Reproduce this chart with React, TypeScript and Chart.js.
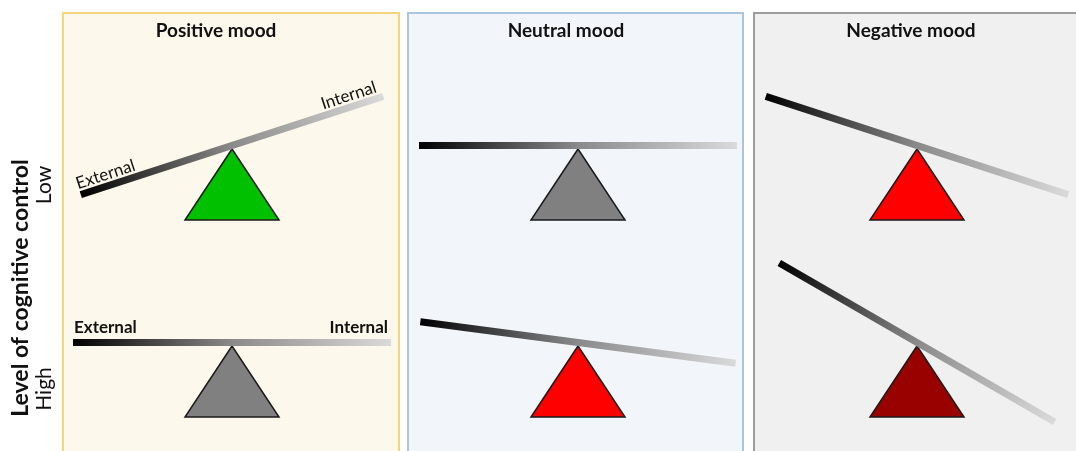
import React, { useEffect, useRef } from "react";
import { Chart, registerables } from "chart.js";

Chart.register(...registerables);

// ---- data ----
const moods = ["Positive mood", "Neutral mood", "Negative mood"];
const controlLevels = ["Low", "High"];
const beamEnds = ["External", "Internal"];
// beam tilt in degrees (positive = "Internal" end raised)
const tiltLow = [18, 0, -18];
const tiltHigh = [0, -7.5, -30];
// fulcrum colours
const fulcrumLow = ["#00c000", "#808080", "#ff0000"];
const fulcrumHigh = ["#808080", "#ff0000", "#990000"];
const axisTitle = "Level of cognitive control";

// ---- layout (canvas units) ----
const W = 1076;
const H = 451;
const panelLeft = [63, 408, 754];
const panelRight = [399, 743, 1100];
const panelTop = 13;
const titleX = [216, 566, 911];
const panelBg = ["#fdf8ec", "#f2f6fa", "#f0f0f0"];
const panelBorder = ["#f4d67c", "#a9c6de", "#9c9c9c"];
const pivotX = [232, 578, 917];
const pivotY = [149, 346];
const triHalf = 47;
const triHeight = 71;
const beamHalf = 159;
const beamLift = 3.5;
const FONT = "Lato, 'Open Sans', sans-serif";

function beamPoints(col: number, row: number, tilt: number) {
  const a = (tilt * Math.PI) / 180;
  const cx = pivotX[col];
  const cy = pivotY[row] - beamLift;
  const dx = beamHalf * Math.cos(a);
  const dy = beamHalf * Math.sin(a);
  return [
    { x: cx - dx, y: cy + dy },
    { x: cx + dx, y: cy - dy },
  ];
}

function trianglePoints(col: number, row: number) {
  const ax = pivotX[col];
  const ay = pivotY[row];
  return [
    { x: ax, y: ay },
    { x: ax + triHalf, y: ay + triHeight },
    { x: ax - triHalf, y: ay + triHeight },
    { x: ax, y: ay },
  ];
}

const gradientStroke = (ctx: any) => {
  const chart = ctx.chart;
  const xs = chart.scales?.x;
  const ys = chart.scales?.y;
  const d = ctx.dataset?.data;
  if (!xs || !ys || !d || !chart.ctx) return "#888";
  const x0 = xs.getPixelForValue(d[0].x);
  const y0 = ys.getPixelForValue(d[0].y);
  const x1 = xs.getPixelForValue(d[1].x);
  const y1 = ys.getPixelForValue(d[1].y);
  if (![x0, y0, x1, y1].every((v) => Number.isFinite(v))) return "#888";
  const g = chart.ctx.createLinearGradient(x0, y0, x1, y1);
  g.addColorStop(0, "#000000");
  g.addColorStop(0.5, "#8a8a8a");
  g.addColorStop(1, "#dadada");
  return g;
};

const decorPlugin = {
  id: "decor",
  beforeDatasetsDraw(chart: any) {
    const c = chart.ctx;
    const xs = chart.scales.x;
    const ys = chart.scales.y;
    c.save();
    moods.forEach((m, i) => {
      const l = xs.getPixelForValue(panelLeft[i]);
      const r = xs.getPixelForValue(panelRight[i]);
      const t = ys.getPixelForValue(panelTop);
      const b = ys.getPixelForValue(H + 20);
      c.fillStyle = panelBg[i];
      c.fillRect(l, t, r - l, b - t);
      c.strokeStyle = panelBorder[i];
      c.lineWidth = 2;
      c.strokeRect(l, t, r - l, b - t);
      c.fillStyle = "#111";
      c.font = `bold 19px ${FONT}`;
      c.textAlign = "center";
      c.textBaseline = "alphabetic";
      c.fillText(m, xs.getPixelForValue(titleX[i]), ys.getPixelForValue(37));
    });
    c.restore();
  },
  afterDatasetsDraw(chart: any) {
    const c = chart.ctx;
    const xs = chart.scales.x;
    const ys = chart.scales.y;
    c.save();
    c.fillStyle = "#111";
    // rotated labels along the tilted Positive/Low beam
    const pts = beamPoints(0, 0, tiltLow[0]);
    const p0x = xs.getPixelForValue(pts[0].x);
    const p0y = ys.getPixelForValue(pts[0].y);
    const p1x = xs.getPixelForValue(pts[1].x);
    const p1y = ys.getPixelForValue(pts[1].y);
    const ang = Math.atan2(p1y - p0y, p1x - p0x);
    c.font = `17px ${FONT}`;
    c.save();
    c.translate(p0x, p0y);
    c.rotate(ang);
    c.textAlign = "left";
    c.fillText(beamEnds[0], -1, -6);
    c.restore();
    c.save();
    c.translate(p1x, p1y);
    c.rotate(ang);
    c.textAlign = "right";
    c.fillText(beamEnds[1], -4, -6);
    c.restore();
    // bold labels over the level Positive/High beam
    const q = beamPoints(0, 1, tiltHigh[0]);
    c.font = `bold 17px ${FONT}`;
    c.textAlign = "left";
    c.fillText(beamEnds[0], xs.getPixelForValue(q[0].x) + 1, ys.getPixelForValue(q[0].y) - 10);
    c.textAlign = "right";
    c.fillText(beamEnds[1], xs.getPixelForValue(q[1].x) - 3, ys.getPixelForValue(q[1].y) - 10);
    // axis title and level labels
    c.save();
    c.translate(21, ys.getPixelForValue(288));
    c.rotate(-Math.PI / 2);
    c.textAlign = "center";
    c.textBaseline = "middle";
    c.font = `bold 23px ${FONT}`;
    c.fillText(axisTitle, 0, 0);
    c.restore();
    const levelY = [185, 389];
    controlLevels.forEach((lv, i) => {
      c.save();
      c.translate(44, ys.getPixelForValue(levelY[i]));
      c.rotate(-Math.PI / 2);
      c.textAlign = "center";
      c.textBaseline = "middle";
      c.font = `21px ${FONT}`;
      c.fillText(lv, 0, 0);
      c.restore();
    });
    c.restore();
  },
};

export default function App() {
  const ref = useRef<HTMLCanvasElement | null>(null);
  useEffect(() => {
    if (!ref.current) return;
    const datasets: any[] = [];
    const tilts = [tiltLow, tiltHigh];
    const fills = [fulcrumLow, fulcrumHigh];
    controlLevels.forEach((_, row) => {
      moods.forEach((m, col) => {
        datasets.push({
          label: `${m} ${controlLevels[row]} fulcrum`,
          data: trianglePoints(col, row),
          showLine: true,
          fill: "shape",
          backgroundColor: fills[row][col],
          borderColor: "#1a1a1a",
          borderWidth: 1.5,
          borderJoinStyle: "miter",
          pointRadius: 0,
          tension: 0,
          order: 2,
        });
        datasets.push({
          label: `${m} ${controlLevels[row]} beam`,
          data: beamPoints(col, row, tilts[row][col]),
          showLine: true,
          fill: false,
          borderColor: gradientStroke,
          borderWidth: 7,
          borderCapStyle: "butt",
          pointRadius: 0,
          tension: 0,
          order: 1,
        });
      });
    });
    const chart = new Chart(ref.current, {
      type: "scatter",
      data: { datasets },
      options: {
        animation: false,
        responsive: false,
        events: [],
        layout: { padding: 0 },
        plugins: { legend: { display: false }, tooltip: { enabled: false } },
        scales: {
          x: { type: "linear", min: 0, max: W, display: false },
          y: { type: "linear", min: 0, max: H, reverse: true, display: false },
        },
      },
      plugins: [decorPlugin],
    });
    return () => chart.destroy();
  }, []);
  return (
    <div style={{ position: "fixed", left: 0, top: 0, width: W, height: H, background: "#fff" }}>
      <canvas ref={ref} width={W} height={H} style={{ display: "block" }} />
    </div>
  );
}
